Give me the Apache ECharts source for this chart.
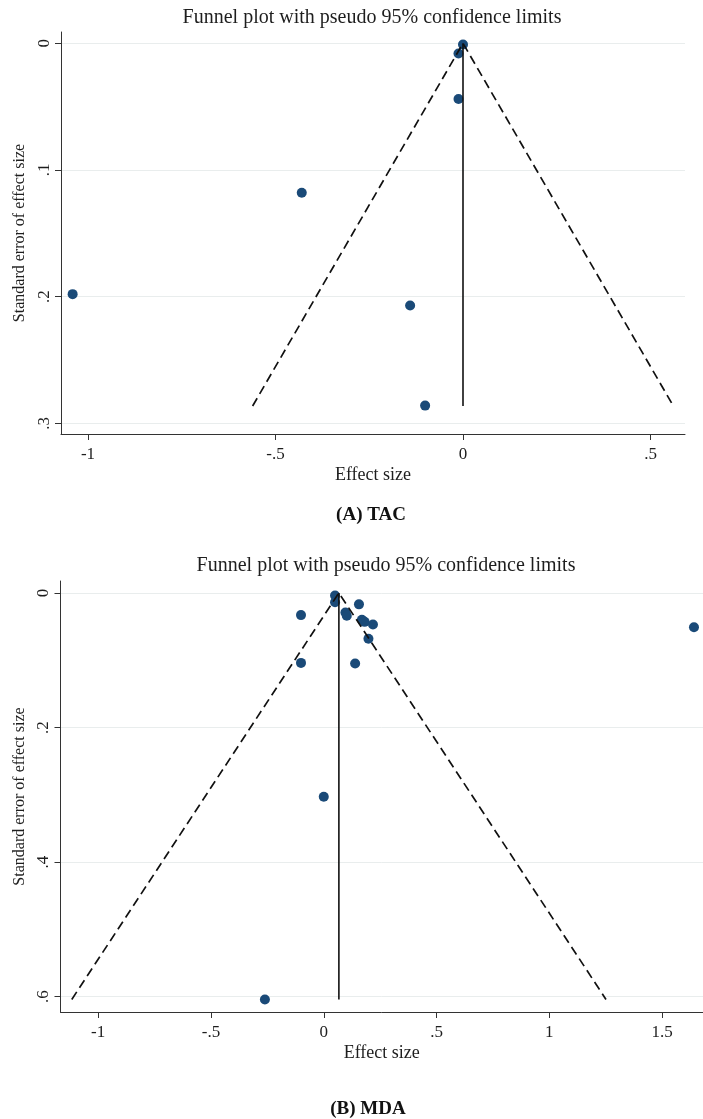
<!DOCTYPE html>
<html>
<head>
<meta charset="utf-8">
<script src="https://cdn.jsdelivr.net/npm/echarts@6/dist/echarts.min.js"></script>
<style>
  html, body { margin: 0; padding: 0; background: #ffffff; }
  #chart { width: 703px; height: 1119px; }
</style>
</head>
<body>
<div id="chart"></div>
<script>
// ---- Panel A: TAC ----
const tacEffect = [0.000, -0.012, -0.012, -0.430, -1.041, -0.141, -0.101];
const tacSE     = [0.001,  0.008,  0.044,  0.118,  0.198,  0.207,  0.286];
const tacPooled = 0.000;           // pooled effect (vertical line)
const tacBaseSE = 0.2863;          // largest standard error (funnel base)
const tacLimits = [-0.561, 0.561]; // pseudo 95% limits at the funnel base
const tacXTicks = [-1, -0.5, 0, 0.5];
const tacYTicks = [0, 0.1, 0.2, 0.3];

// ---- Panel B: MDA ----
const mdaEffect = [0.050, 0.050, -0.101, 0.156, 0.096, 0.102, 0.169, 0.181, 0.218, 0.198, -0.101, 0.139, 1.641, 0.000, -0.261];
const mdaSE     = [0.004, 0.014,  0.033, 0.017, 0.029, 0.034, 0.040, 0.043, 0.047, 0.068,  0.104, 0.105, 0.051, 0.303,  0.604];
const mdaPooled = 0.067;
const mdaBaseSE = 0.604;
const mdaLimits = [-1.117, 1.251];
const mdaXTicks = [-1, -0.5, 0, 0.5, 1, 1.5];
const mdaYTicks = [0, 0.2, 0.4, 0.6];

const chartTitle = 'Funnel plot with pseudo 95% confidence limits';
const xName = 'Effect size';
const yName = 'Standard error of effect size';
const panelCaptions = ['(A) TAC', '(B) MDA'];

const SERIF = '"Liberation Serif", "DejaVu Serif", serif';
const INK = '#1e1e1e';
const MARKER = '#1a4a78';
const GRID_LINE = '#e9eded';

function stataNum(v) {
  const s = String(+(+v).toFixed(3));
  return s.replace(/^(-?)0\./, '$1.');
}

function pairs(xs, ys) { return xs.map((x, i) => [x, ys[i]]); }

function xAxisCfg(gridIndex, min, max, ticks) {
  return {
    type: 'value', gridIndex, min, max,
    name: xName, nameLocation: 'middle', nameGap: 32,
    nameTextStyle: { fontFamily: SERIF, fontSize: 18, color: INK },
    axisLine: { show: true, onZero: false, lineStyle: { color: '#333', width: 1 } },
    axisTick: { show: true, length: 6, lineStyle: { color: '#333' }, customValues: ticks },
    axisLabel: { customValues: ticks, formatter: stataNum, fontFamily: SERIF, fontSize: 17, color: INK, margin: 12 },
    splitLine: { show: false }
  };
}

function yAxisCfg(gridIndex, min, max, ticks) {
  return {
    type: 'value', gridIndex, min, max, inverse: true,
    name: yName, nameLocation: 'middle', nameRotate: 90, nameGap: 31,
    nameTextStyle: { fontFamily: SERIF, fontSize: 16, color: INK },
    axisLine: { show: true, onZero: false, lineStyle: { color: '#333', width: 1 } },
    axisTick: { show: true, length: 6, lineStyle: { color: '#333' }, customValues: ticks },
    axisLabel: { customValues: ticks, formatter: stataNum, rotate: 90, fontFamily: SERIF, fontSize: 17, color: INK, margin: 8 },
    splitLine: { show: true, lineStyle: { color: GRID_LINE, width: 1 } }
  };
}

function panelSeries(idx, effect, se, pooled, baseSE, limits) {
  return [
    {
      type: 'scatter', xAxisIndex: idx, yAxisIndex: idx,
      data: pairs(effect, se), symbol: 'circle', symbolSize: 10,
      itemStyle: { color: MARKER, opacity: 1 }, z: 2, silent: true
    },
    {
      type: 'line', xAxisIndex: idx, yAxisIndex: idx,
      data: [[limits[0], baseSE], [pooled, 0], [limits[1], baseSE]],
      symbol: 'none', lineStyle: { color: '#111', width: 1.7, type: [9, 5] }, z: 3, silent: true
    },
    {
      type: 'line', xAxisIndex: idx, yAxisIndex: idx,
      data: [[pooled, 0], [pooled, baseSE]],
      symbol: 'none', lineStyle: { color: '#111', width: 1.6 }, z: 3, silent: true
    }
  ];
}

const chart = echarts.init(document.getElementById('chart'), null, { renderer: 'canvas' });

chart.setOption({
  backgroundColor: '#ffffff',
  animation: false,
  grid: [
    { left: 61, top: 32, width: 624, height: 402 },
    { left: 60.5, top: 581, width: 650.5, height: 431 }
  ],
  xAxis: [
    xAxisCfg(0, -1.072, 0.592, tacXTicks),
    xAxisCfg(1, -1.167, 1.681, mdaXTicks)
  ],
  yAxis: [
    yAxisCfg(0, -0.0089, 0.3084, tacYTicks),
    yAxisCfg(1, -0.0177, 0.6227, mdaYTicks)
  ],
  series: [
    ...panelSeries(0, tacEffect, tacSE, tacPooled, tacBaseSE, tacLimits),
    ...panelSeries(1, mdaEffect, mdaSE, mdaPooled, mdaBaseSE, mdaLimits)
  ],
  graphic: [
    { type: 'text', x: 372, y: 18, style: { text: chartTitle, fill: INK, font: '20px ' + SERIF, textAlign: 'center', textVerticalAlign: 'middle' } },
    { type: 'text', x: 371, y: 515, style: { text: panelCaptions[0], fill: '#111', font: 'bold 19px ' + SERIF, textAlign: 'center', textVerticalAlign: 'middle' } },
    { type: 'text', x: 386, y: 566, style: { text: chartTitle, fill: INK, font: '20px ' + SERIF, textAlign: 'center', textVerticalAlign: 'middle' } },
    { type: 'text', x: 368, y: 1109, style: { text: panelCaptions[1], fill: '#111', font: 'bold 19px ' + SERIF, textAlign: 'center', textVerticalAlign: 'middle' } }
  ]
});
</script>
</body>
</html>
